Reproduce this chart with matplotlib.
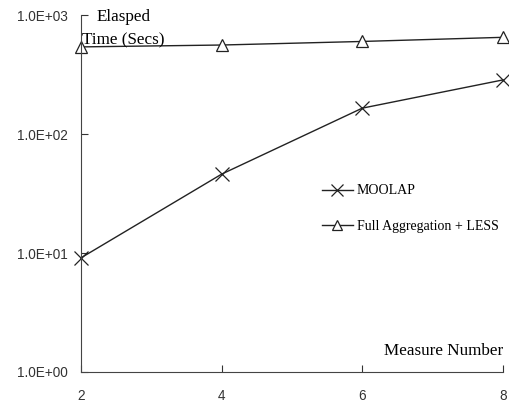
import matplotlib.pyplot as plt
from matplotlib.ticker import FixedLocator

plt.rcParams["font.family"] = "Liberation Serif"

measures = [2, 4, 6, 8]
moolap = [9.1, 46, 165, 285]
full_agg = [540, 560, 600, 650]
ytick_vals = [1, 10, 100, 1000]
ytick_labels = ["1.0E+00", "1.0E+01", "1.0E+02", "1.0E+03"]

fig = plt.figure(figsize=(5.09, 4.07), dpi=100)
ax = fig.add_axes([0.159, 0.086, 0.829, 0.877])

ax.plot(measures, moolap, color="#222222", lw=1, marker="x", ms=10,
        mew=0.9, mec="#222222", label="MOOLAP", clip_on=False)
ax.plot(measures, full_agg, color="#222222", lw=1, marker="^", ms=9,
        mew=0.9, mfc="white", mec="#222222", label="Full Aggregation + LESS",
        clip_on=False)

ax.set_yscale("log")
ax.set_ylim(1, 1000)
ax.set_xlim(2, 8)
ax.yaxis.set_major_locator(FixedLocator(ytick_vals))
ax.yaxis.set_minor_locator(FixedLocator([]))
ax.set_yticklabels(ytick_labels)
ax.set_xticks(measures)

ax.tick_params(axis="both", direction="in", length=5, width=0.8,
               labelsize=9.8, colors="#333333")
for lab in ax.get_xticklabels() + ax.get_yticklabels():
    lab.set_fontfamily("Liberation Sans")
ax.tick_params(axis="y", pad=9.5)
ax.tick_params(axis="x", pad=12)
for s in ["top", "right"]:
    ax.spines[s].set_visible(False)
for s in ["left", "bottom"]:
    ax.spines[s].set_color("#444444")

ax.text(0.038, 0.995, "Elasped", transform=ax.transAxes, fontsize=12.3,
        va="center", ha="left")
ax.text(0.003, 0.93, "Time (Secs)", transform=ax.transAxes, fontsize=12.3,
        va="center", ha="left")
ax.text(1.0, 0.058, "Measure Number", transform=ax.transAxes, fontsize=12.3,
        va="center", ha="right")

ax.legend(loc="center left", bbox_to_anchor=(0.542, 0.458), frameon=False,
          handlelength=2.2, handletextpad=0.3, labelspacing=1.6,
          fontsize=10, markerscale=0.8)

fig.savefig("out.png", dpi=100)
